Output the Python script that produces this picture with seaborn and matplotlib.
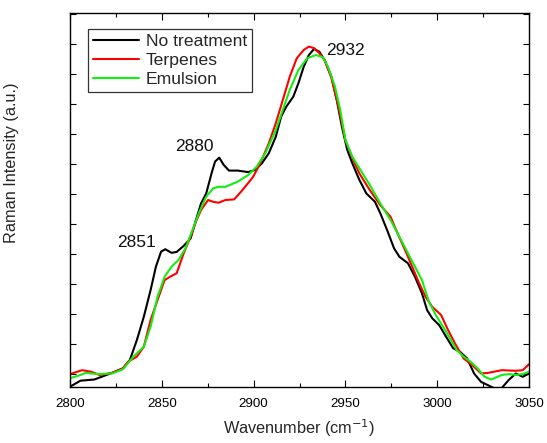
import numpy as np
import pandas as pd
import matplotlib
matplotlib.use("Agg")
import matplotlib.pyplot as plt
import seaborn as sns
from matplotlib.ticker import MultipleLocator

# ---- data ----
wn_none = [2800, 2805.7, 2813.3, 2817.2, 2822.9, 2828.8, 2832.6, 2836.4, 2840.2, 2843.9,
           2846.8, 2849.6, 2851.9, 2855.3, 2858.1, 2861.9, 2865.7, 2868.6, 2871.4, 2874.2,
           2877.1, 2879.0, 2881.3, 2883.7, 2886.6, 2891.3, 2897.0, 2900.8, 2904.5, 2908.3,
           2912.1, 2915.0, 2917.8, 2921.6, 2924.4, 2927.3, 2930.1, 2932.9, 2935.8, 2938.6,
           2942.4, 2945.3, 2948.1, 2951.0, 2953.8, 2957.6, 2961.4, 2966.1, 2969.0, 2972.7,
           2976.5, 2979.4, 2984.1, 2987.9, 2991.7, 2994.5, 2997.3, 3001.1, 3004.9, 3008.7,
           3012.5, 3016.3, 3020.1, 3023.9, 3027.7, 3032.0, 3035.2, 3038.9, 3042.8, 3046.6, 3050]
int_none = [-42, -22, -18, -9, 4, 19, 47, 113, 191, 280,
            358, 408, 416, 404, 407, 427, 452, 513, 569, 602,
            669, 708, 721, 697, 678, 678, 673, 680, 702, 736,
            791, 858, 891, 924, 969, 1024, 1063, 1083, 1074, 1047,
            991, 913, 824, 747, 702, 647, 602, 574, 536, 480,
            419, 391, 369, 324, 269, 213, 186, 163, 124, 86,
            74, 52, 2, -26, -37, -50, -46, -20, 2, -9, 2]

wn_terp = [2800, 2806.6, 2811.4, 2816.1, 2822.9, 2828.8, 2831.6, 2836.4, 2840.2, 2843.9,
           2847.7, 2851.5, 2854.4, 2858.1, 2861.9, 2865.7, 2868.6, 2871.4, 2875.2, 2878.0,
           2880.9, 2884.7, 2889.4, 2893.2, 2897.0, 2899.8, 2903.6, 2908.3, 2912.1, 2915.9,
           2919.7, 2923.5, 2927.3, 2930.1, 2932.9, 2935.8, 2938.6, 2942.4, 2946.2, 2950.0,
           2953.8, 2957.6, 2963.3, 2969.0, 2974.6, 2978.4, 2984.1, 2989.8, 2993.6, 2997.3,
           3002.1, 3005.9, 3009.7, 3014.4, 3019.1, 3023.9, 3027.7, 3035.2, 3042.8, 3046.6, 3050]
int_terp = [0, 13, 8, -3, 4, 19, 41, 58, 91, 180,
            247, 313, 324, 336, 402, 458, 508, 547, 580, 574,
            571, 580, 582, 608, 636, 658, 702, 769, 836, 913,
            991, 1052, 1080, 1091, 1086, 1069, 1047, 986, 891, 780,
            719, 669, 613, 563, 524, 469, 391, 308, 258, 224,
            197, 147, 102, 52, 30, 2, 4, 13, 11, 13, 33]

wn_emul = [2800, 2805.7, 2808.5, 2815.2, 2822.9, 2828.8, 2834.5, 2840.2, 2843.9, 2847.7,
           2851.5, 2855.3, 2859.1, 2862.9, 2866.7, 2870.5, 2874.2, 2878.0, 2880.9, 2884.7,
           2891.3, 2897.0, 2901.7, 2906.4, 2912.1, 2915.9, 2919.7, 2924.4, 2929.2, 2933.9,
           2937.7, 2940.5, 2944.3, 2947.2, 2950.0, 2953.8, 2957.6, 2963.3, 2969.0, 2974.6,
           2980.3, 2986.0, 2991.7, 2995.5, 2999.2, 3004.9, 3010.6, 3014.4, 3018.2, 3022.0,
           3025.8, 3029.5, 3035.2, 3039.0, 3042.8, 3046.6, 3050]
int_emul = [-14, -3, 4, 0, 2, 16, 58, 91, 158, 258,
            324, 358, 380, 419, 480, 541, 591, 619, 624, 624,
            641, 663, 691, 736, 813, 880, 947, 1013, 1052, 1063,
            1056, 1024, 958, 880, 780, 724, 686, 630, 569, 513,
            447, 380, 313, 241, 197, 141, 80, 58, 41, 19,
            -9, -18, -3, 0, -3, 0, 8]

series_names = ["No treatment", "Terpenes", "Emulsion"]
series_colors = ["#000000", "#ff0000", "#11ee11"]

peak_labels = ["2851", "2880", "2932"]
peak_x = [2836, 2867.5, 2950.2]
peak_y = [440, 757, 1078]

x_ticks = [2800, 2850, 2900, 2950, 3000, 3050]

# ---- build long-form table ----
frames = []
for name, wn, iv in zip(series_names, [wn_none, wn_terp, wn_emul], [int_none, int_terp, int_emul]):
    frames.append(pd.DataFrame({"Wavenumber": wn, "Intensity": iv, "Sample": name}))
df = pd.concat(frames, ignore_index=True)

sns.set_style("ticks")
plt.rcParams['font.family'] = ['Liberation Sans', 'DejaVu Sans']

fig = plt.figure(figsize=(5.47, 4.43), dpi=100)
ax = fig.add_axes([70/547, 1 - 387/443, (529-70)/547, (387-13)/443])

sns.lineplot(data=df, x="Wavenumber", y="Intensity", hue="Sample",
             hue_order=series_names, palette=dict(zip(series_names, series_colors)),
             estimator=None, sort=False, linewidth=1.5, ax=ax)

ax.set_xlim(2800, 3050)
ax.set_ylim(-43, 1203)
ax.set_xticks(x_ticks)
ax.xaxis.set_minor_locator(MultipleLocator(25))
ax.yaxis.set_major_locator(MultipleLocator(100))
ax.set_yticklabels([])
ax.tick_params(axis='both', which='both', direction='in', top=True, right=True,
               width=0.8, colors='black')
ax.tick_params(axis='x', which='major', length=5, labelsize=9.6, pad=8)
ax.tick_params(axis='x', which='minor', length=3)
ax.tick_params(axis='y', which='major', length=4, labelleft=False)
for s in ax.spines.values():
    s.set_linewidth(1.0)
    s.set_color('black')

ax.set_xlabel("Wavenumber (cm$^{-1}$)", fontsize=11.7)
ax.xaxis.set_label_coords(0.5, (387-417)/374)
ax.set_ylabel("Raman Intensity (a.u.)", fontsize=11.7)
ax.yaxis.set_label_coords((19-70)/459, (387-163)/374)

for lab, px, py in zip(peak_labels, peak_x, peak_y):
    ax.text(px, py, lab, fontsize=12.5, ha='center', va='center', color='#111111')

leg = ax.legend(loc='upper left', bbox_to_anchor=((88-70)/459, 1 - (29-13)/374),
                fontsize=12.6, frameon=True, fancybox=False, edgecolor='black',
                handlelength=2.6, handletextpad=0.4, borderpad=0.3,
                labelspacing=0.2, borderaxespad=0)
leg.get_frame().set_linewidth(0.9)
leg.set_title(None)

fig.savefig("out.png", dpi=100)
